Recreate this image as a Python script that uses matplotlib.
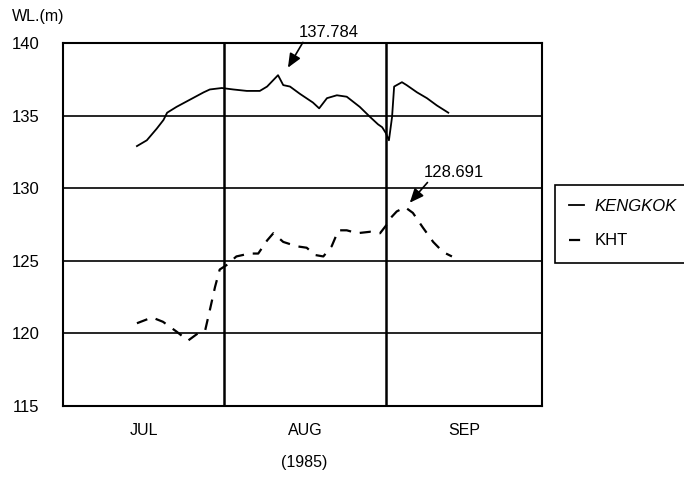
import matplotlib
matplotlib.use('Agg')
import matplotlib.pyplot as plt

plt.rcParams['font.family'] = ['Liberation Sans', 'DejaVu Sans']

# day index counted from 1 Jul 1985 (Aug 1 = 31, Sep 1 = 62)
kengkok_days = [14.2, 16.1, 18.0, 19.3, 20.0, 21.8, 24.4, 27.0, 28.2, 30.5, 32.7, 35.3,
                37.8, 39.2, 41.3, 42.3, 43.6, 45.5, 48.0, 49.2, 50.7, 52.6, 54.5, 57.0,
                59.0, 60.5, 61.3, 62.0, 62.6, 63.2, 63.6, 65.1, 66.0, 68.0, 69.9, 71.8, 74.0]
kengkok_wl = [132.9, 133.3, 134.1, 134.7, 135.2, 135.6, 136.1, 136.6, 136.8, 136.9, 136.8, 136.7,
              136.7, 137.0, 137.784, 137.1, 137.0, 136.5, 135.9, 135.5, 136.2, 136.4, 136.3, 135.6,
              134.9, 134.4, 134.2, 133.8, 133.3, 134.9, 137.0, 137.3, 137.1, 136.6, 136.2, 135.7, 135.2]

kht_days = [14.2, 17.1, 19.2, 21.9, 24.0, 25.9, 27.3, 28.2, 29.2, 30.1, 31.4, 33.3,
            35.8, 37.5, 39.2, 40.4, 42.3, 44.9, 46.8, 48.4, 50.0, 51.6, 52.9, 54.5,
            56.5, 59.0, 60.9, 62.2, 62.8, 64.1, 65.7, 67.2, 69.1, 71.1, 73.0, 74.7]
kht_wl = [120.7, 121.1, 120.8, 120.1, 119.5, 120.0, 120.2, 121.6, 123.2, 124.4, 124.7, 125.3,
          125.5, 125.5, 126.4, 126.9, 126.3, 126.0, 125.9, 125.4, 125.3, 126.0, 127.1, 127.1,
          126.9, 127.0, 126.9, 127.5, 127.9, 128.4, 128.691, 128.3, 127.3, 126.3, 125.6, 125.3]

month_starts = [0, 31, 62, 92]
month_names = ['JUL', 'AUG', 'SEP']
y_ticks = [115, 120, 125, 130, 135, 140]

fig = plt.figure(figsize=(6.84, 4.78), dpi=100)
ax = fig.add_axes([63 / 684, 72 / 478, 479 / 684, 363 / 478])

ax.plot(kengkok_days, kengkok_wl, color='black', lw=1.3, label='KENGKOK')
ax.plot(kht_days, kht_wl, color='black', lw=1.6, ls=(0, (5, 4)), label='KHT')

ax.set_xlim(month_starts[0], month_starts[-1])
ax.set_ylim(115, 140)

# month labels in the middle of each month, boundaries as grid lines
mid = [(month_starts[i] + month_starts[i + 1]) / 2 for i in range(3)]
ax.set_xticks(mid)
ax.set_xticklabels(month_names, fontsize=11.5)
ax.set_xticks(month_starts[1:3], minor=True)
ax.tick_params(axis='x', which='both', length=0, pad=12)
ax.grid(axis='x', which='minor', color='black', lw=1.8)

ax.set_yticks(y_ticks)
ax.set_yticklabels([str(t) for t in y_ticks], fontsize=12)
ax.tick_params(axis='y', length=0, pad=17)
ax.grid(axis='y', which='major', color='black', lw=1.2)

for s in ax.spines.values():
    s.set_linewidth(1.5)

arrow = dict(arrowstyle='-|>,head_length=0.7,head_width=0.3', color='black', lw=1.2,
             shrinkA=0, shrinkB=0, relpos=(0.1, 0.0))
ax.annotate('137.784', xy=(43.2, 138.3), xytext=(51.0, 140.75), ha='center', va='center',
            fontsize=12, arrowprops=arrow, annotation_clip=False)
ax.annotate('128.691', xy=(66.6, 129.0), xytext=(75.1, 131.1), ha='center', va='center',
            fontsize=12, arrowprops=arrow, annotation_clip=False)

fig.text(12 / 684, 1 - 17 / 478, 'WL.(m)', ha='left', va='center', fontsize=11.5)
fig.text(304 / 684, 1 - 463 / 478, '(1985)', ha='center', va='center', fontsize=11.5)

leg = fig.legend(loc='upper left', bbox_to_anchor=(555 / 684, 1 - 185 / 478), fontsize=12,
                 handlelength=0.9, handletextpad=0.6, labelspacing=1.15, borderpad=0.85,
                 borderaxespad=0, fancybox=False, edgecolor='black', framealpha=1)
leg.get_frame().set_linewidth(1.2)
leg.get_texts()[0].set_style('italic')

fig.savefig('out.png', dpi=100)
